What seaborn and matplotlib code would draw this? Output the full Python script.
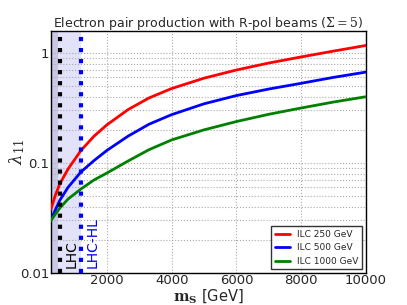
import numpy as np
import pandas as pd
import seaborn as sns
import matplotlib
matplotlib.use("Agg")
import matplotlib.pyplot as plt
from matplotlib.ticker import FixedLocator, FixedFormatter, NullFormatter

# scalar mass values (GeV)
mass = [270, 400, 550, 800, 1200, 1600, 2000, 2650, 3300, 4000, 5000, 6000, 7000, 8000, 9000, 10000]
ilc250 = [0.038, 0.050, 0.065, 0.088, 0.13, 0.175, 0.222, 0.305, 0.39, 0.475, 0.59, 0.70, 0.81, 0.92, 1.04, 1.17]
ilc500 = [0.030, 0.037, 0.046, 0.060, 0.083, 0.105, 0.13, 0.175, 0.225, 0.275, 0.345, 0.41, 0.47, 0.53, 0.60, 0.67]
ilc1000 = [0.030, 0.034, 0.039, 0.047, 0.058, 0.070, 0.081, 0.104, 0.132, 0.162, 0.20, 0.238, 0.277, 0.316, 0.358, 0.40]
series = ["ILC 250 GeV", "ILC 500 GeV", "ILC 1000 GeV"]
colors = ["red", "blue", "green"]

lhc = 550
lhc_hl = 1200
excluded_dark = 480

df = pd.DataFrame({
    "m": mass * 3,
    "lam": ilc250 + ilc500 + ilc1000,
    "beam": [series[0]] * len(mass) + [series[1]] * len(mass) + [series[2]] * len(mass),
})

sns.set_style("white")
plt.rcParams["mathtext.fontset"] = "dejavuserif"

fig = plt.figure(figsize=(4.07, 3.05), dpi=100)
ax = fig.add_axes([0.125, 0.105, 0.774, 0.793])

# excluded regions
ax.axvspan(270, lhc_hl, color="#e2e2fa", zorder=0, lw=0)
ax.axvspan(270, excluded_dark, color="#c8c8e6", zorder=0, lw=0)

sns.lineplot(data=df, x="m", y="lam", hue="beam", palette=colors,
             linewidth=2, ax=ax, zorder=3)

ax.axvline(lhc, color="black", ls=":", lw=3, zorder=4)
ax.axvline(lhc_hl, color="blue", ls=":", lw=3, zorder=4)
ax.text(lhc + 130, 0.0112, "LHC", rotation=90, color="black", fontsize=10,
        va="bottom", ha="left")
ax.text(lhc_hl + 130, 0.0112, "LHC-HL", rotation=90, color="blue", fontsize=10,
        va="bottom", ha="left")

ax.set_yscale("log")
ax.set_xlim(270, 10000)
ax.set_ylim(0.01, 1.58)
ax.yaxis.set_major_locator(FixedLocator([0.01, 0.1, 1]))
ax.yaxis.set_major_formatter(FixedFormatter(["0.01", "0.1", "1"]))
ax.yaxis.set_minor_formatter(NullFormatter())
ax.set_xticks([2000, 4000, 6000, 8000, 10000])
ax.tick_params(labelsize=9.5, direction="in", which="both", length=4, pad=1)
ax.tick_params(which="minor", length=2)

ax.grid(True, which="major", ls=":", color="#aaaaaa", lw=0.8)
ax.grid(True, which="minor", axis="y", ls=":", color="#aaaaaa", lw=0.8)

for s in ax.spines.values():
    s.set_color("black")
    s.set_linewidth(1)

ax.set_title(r"Electron pair production with R-pol beams ($\Sigma=5$)",
             fontsize=9, pad=3)
ax.set_xlabel(r"$\mathbf{m_S}$ [GeV]", fontsize=10.5)
ax.set_ylabel(r"$\lambda_{11}$", fontsize=12)
ax.xaxis.set_label_coords(0.5, -0.058)
ax.yaxis.set_label_coords(-0.075, 0.5)

leg = ax.legend(loc="lower right", fontsize=6.5, frameon=True, fancybox=False,
                handlelength=1.7, borderaxespad=0.4)
leg.get_frame().set_edgecolor("black")
leg.get_frame().set_linewidth(1)

fig.savefig("out.png", dpi=100)
